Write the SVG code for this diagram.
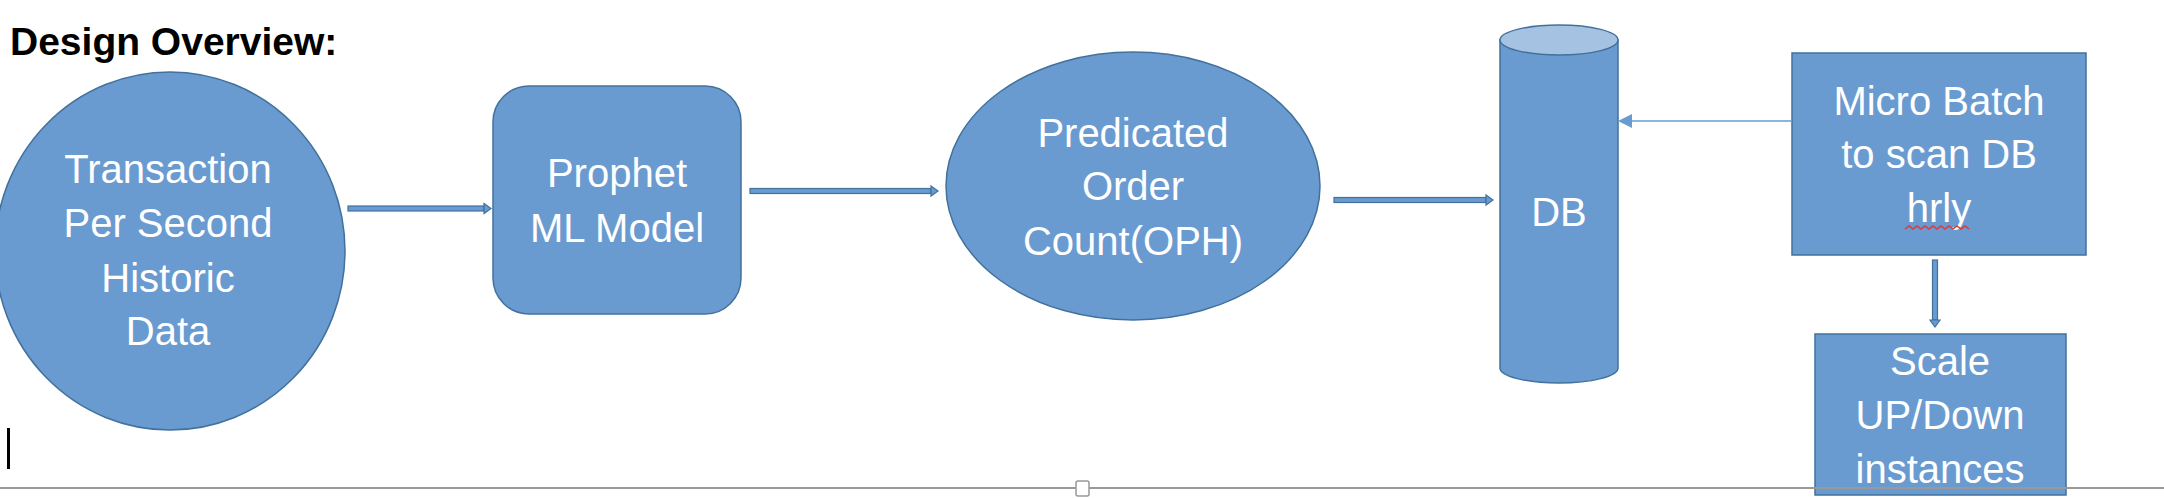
<svg xmlns="http://www.w3.org/2000/svg" width="2164" height="498" viewBox="0 0 2164 498">
<style>
.shape{fill:#6a9bd0;stroke:#41719c;stroke-width:1.5}
.lbl{font-family:"Liberation Sans",Arial,sans-serif;font-size:40px;fill:#ffffff;text-anchor:middle}
.title{font-family:"Liberation Sans",Arial,sans-serif;font-size:39px;font-weight:bold;fill:#000000}
.shaft{fill:#6a9bd0;stroke:#41719c;stroke-width:1.2}
.thin{stroke:#6a9bd0;stroke-width:1.5;fill:none}
</style>
<rect width="2164" height="498" fill="#ffffff"/>
<text class="title" x="10" y="55">Design Overview:</text>

<g id="node-tps">
<ellipse class="shape" cx="170" cy="251" rx="175" ry="179"/>
<text class="lbl" x="168" y="183">Transaction</text>
<text class="lbl" x="168" y="237">Per Second</text>
<text class="lbl" x="168" y="292">Historic</text>
<text class="lbl" x="168" y="345">Data</text>
</g>

<g id="node-prophet">
<rect class="shape" x="493" y="86" width="248" height="228" rx="36" ry="36"/>
<text class="lbl" x="617" y="187">Prophet</text>
<text class="lbl" x="617" y="242">ML Model</text>
</g>

<g id="node-predicted">
<ellipse class="shape" cx="1133" cy="186" rx="187" ry="134"/>
<text class="lbl" x="1133" y="147">Predicated</text>
<text class="lbl" x="1133" y="200">Order</text>
<text class="lbl" x="1133" y="255">Count(OPH)</text>
</g>

<g id="node-db">
<path class="shape" d="M1500 40 L1500 368 A59 15 0 0 0 1618 368 L1618 40 Z"/>
<ellipse cx="1559" cy="40" rx="59" ry="15" fill="#a5c2e3" stroke="#41719c" stroke-width="1.5"/>
<text class="lbl" x="1559" y="226">DB</text>
</g>

<g id="node-microbatch">
<rect class="shape" x="1792" y="53" width="294" height="202"/>
<text class="lbl" x="1939" y="115">Micro Batch</text>
<text class="lbl" x="1939" y="168">to scan DB</text>
<text class="lbl" x="1939" y="222">hrly</text>
<path d="M1905 229 l4 -3 l4 3 l4 -3 l4 3 l4 -3 l4 3 l4 -3 l4 3 l4 -3 l4 3 l4 -3 l4 3 l4 -3 l4 3 l4 -3 l4 3" fill="none" stroke="#d93a3a" stroke-width="1.5"/>
</g>

<g id="node-scale">
<rect class="shape" x="1815" y="334" width="251" height="161"/>
<text class="lbl" x="1940" y="375">Scale</text>
<text class="lbl" x="1940" y="429">UP/Down</text>
<text class="lbl" x="1940" y="483">instances</text>
</g>

<g id="connectors">
<rect class="shaft" x="348" y="206" width="136" height="5"/>
<polygon class="shaft" points="484,203.5 491,208.5 484,213.5"/>
<rect class="shaft" x="750" y="188.5" width="181" height="5"/>
<polygon class="shaft" points="931,186 938,191 931,196"/>
<rect class="shaft" x="1334" y="197.5" width="152" height="5"/>
<polygon class="shaft" points="1486,195 1493,200 1486,205"/>
<line class="thin" x1="1792" y1="121" x2="1630" y2="121"/>
<polygon points="1618,121 1632,114 1632,128" fill="#6a9bd0"/>
<rect class="shaft" x="1932.5" y="260" width="5" height="60"/>
<polygon class="shaft" points="1930,320 1940,320 1935,327"/>
</g>

<line x1="0" y1="488" x2="2164" y2="488" stroke="#999999" stroke-width="2"/>
<rect x="1076" y="481" width="13" height="15" rx="2" fill="#ffffff" stroke="#999999" stroke-width="1.5"/>
<rect x="7" y="428" width="3" height="41" fill="#000000"/>
</svg>
